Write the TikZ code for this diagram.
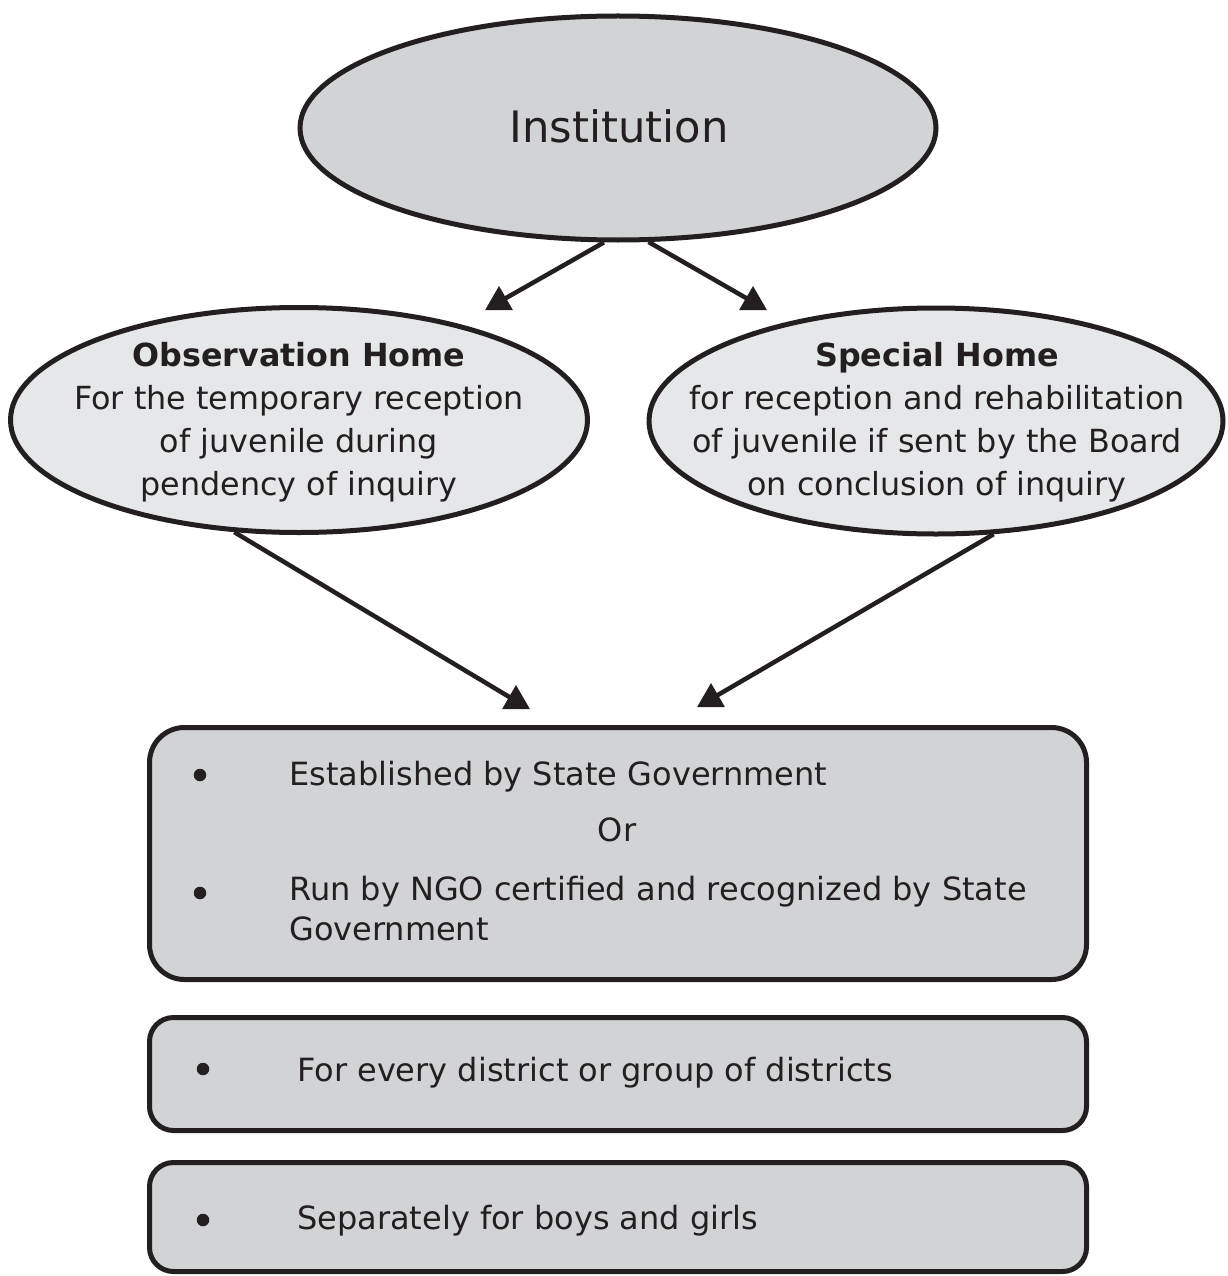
\documentclass[tikz,border=0pt]{standalone}
\usepackage{fontspec}
\setmainfont{DejaVu Sans}
\usetikzlibrary{shapes.geometric}
\definecolor{ink}{HTML}{231F20}
\definecolor{darkfill}{HTML}{D1D3D4}
\definecolor{lightfill}{HTML}{E6E7E8}
\begin{document}
\begin{tikzpicture}[x=1pt,y=-1pt,
  ell/.style={ellipse, draw=ink, line width=5pt, inner sep=0pt},
  txt/.style={text=ink, font=\fontsize{31.8}{43}\selectfont, align=center, inner sep=0pt},
  boxtxt/.style={text=ink, font=\fontsize{32}{40}\selectfont, align=left, inner sep=0pt, anchor=base west},
  box/.style={draw=ink, fill=darkfill, line width=5pt, rectangle, inner sep=0pt, minimum width=937pt},
  tri/.style={regular polygon, regular polygon sides=3, fill=ink, minimum size=32pt, inner sep=0pt},
  conn/.style={draw=ink, line width=4.5pt},
  bul/.style={circle, fill=ink, minimum size=12.5pt, inner sep=0pt}]
\useasboundingbox (0,0) rectangle (1227,1276);

% ellipses
\node[ell, fill=darkfill, minimum width=636pt, minimum height=224pt] (inst) at (618,128) {};
\node[text=ink, font=\fontsize{43.3}{50}\selectfont, inner sep=0pt, anchor=base] (instt) at (619,143) {Institution};

\node[ell, fill=lightfill, minimum width=577pt, minimum height=225pt] (obs) at (299,420) {};
\node[txt, anchor=base] (obst) at (299,495) {\textbf{Observation Home}\\For the temporary reception\\of juvenile during\\pendency of inquiry};

\node[ell, fill=lightfill, minimum width=574pt, minimum height=226pt] (spec) at (936,421) {};
\node[txt, anchor=base] (spect) at (937,495) {\textbf{Special Home}\\for reception and rehabilitation\\of juvenile if sent by the Board\\on conclusion of inquiry};

% boxes
\node[box, rounded corners=35pt, minimum height=252pt] (b1) at (618,853.5) {};
\node[box, rounded corners=24pt, minimum height=113pt] (b2) at (618,1074) {};
\node[box, rounded corners=24pt, minimum height=109pt] (b3) at (618,1217) {};

\node[bul] (u1) at (200,775) {};
\node[boxtxt] (e1) at (289,785) {Established by State Government};
\node[text=ink, font=\fontsize{32}{40}\selectfont, inner sep=0pt, anchor=base] (or) at (617,841) {Or};
\node[bul] (u2) at (200,893) {};
\node[boxtxt] (e2) at (289,940) {Run by NGO certified and recognized by State\\Government};

\node[bul] (u3) at (203,1069) {};
\node[boxtxt] (e3) at (297,1081) {For every district or group of districts};
\node[bul] (u4) at (203,1220) {};
\node[boxtxt] (e4) at (297,1229) {Separately for boys and girls};

% arrow heads
\node[tri] (t1) at (499,302) {};
\node[tri] (t2) at (753,302) {};
\node[tri] (t3) at (516,701) {};
\node[tri] (t4) at (711,699) {};

% connectors
\draw[conn] (inst.263) -- (t1.center);
\draw[conn] (inst.285) -- (t2.center);
\draw[conn] (obs.240) -- (t3.center);
\draw[conn] (spec.297) -- (t4.center);
\end{tikzpicture}
\end{document}
